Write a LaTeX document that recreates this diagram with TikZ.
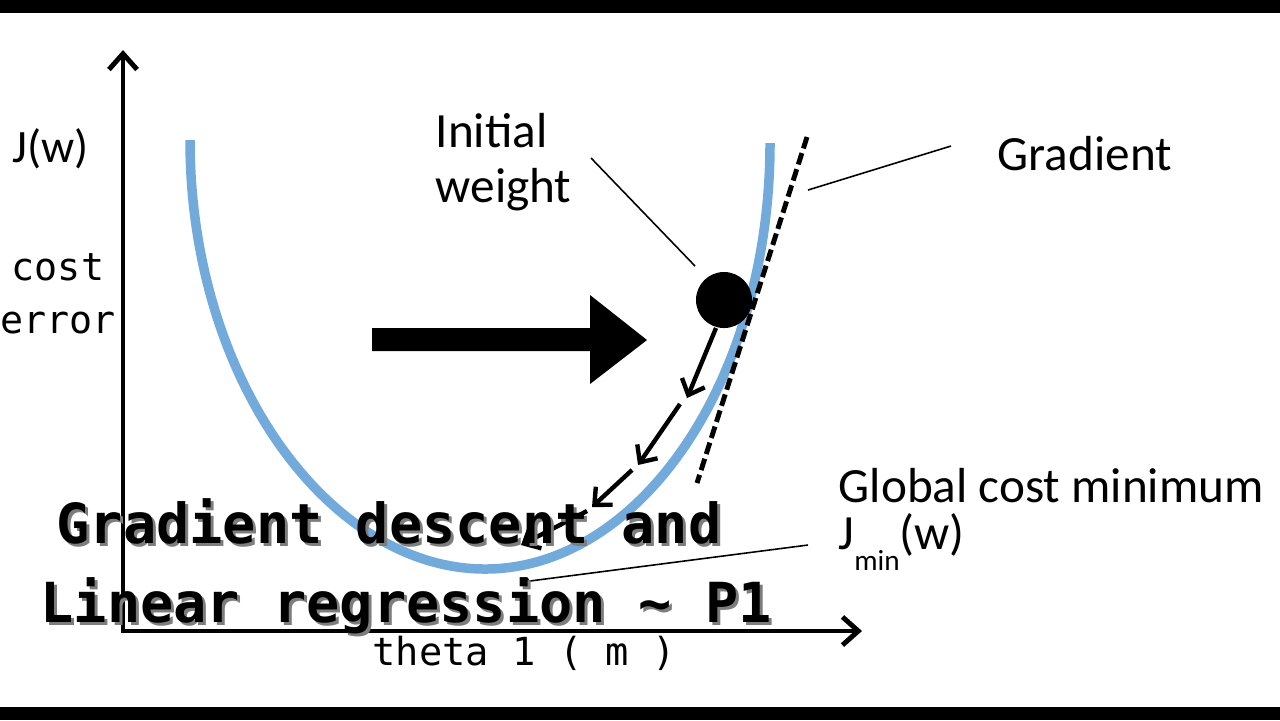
\documentclass[tikz,border=0pt]{standalone}
\usepackage{fontspec}
\usepackage{tikz}
\usetikzlibrary{arrows.meta,positioning,calc}
\newfontfamily\calfont{Carlito}
\newfontfamily\dmono{DejaVu Sans Mono}
\definecolor{cCurve}{RGB}{114,170,220}
\definecolor{cShadow}{RGB}{125,125,125}
\tikzset{
	axisline/.style={{Straight Barb[length=4.5pt,width=8pt]}-{Straight Barb[length=4.5pt,width=8pt]},
		line width=1.4pt},
	costcurve/.style={draw=cCurve,line width=2.7pt},
	tangentline/.style={line width=1.4pt,dash pattern=on 3.4pt off 1.4pt},
	descarr/.style={-{Straight Barb[length=3.8pt,width=7pt]},line width=1.25pt},
	leader/.style={line width=0.45pt},
	lbl/.style={font=\calfont\fontsize{14}{15.6}\selectfont,inner sep=0pt,anchor=base west},
	monolbl/.style={font=\dmono\fontsize{11}{15}\selectfont,inner sep=0pt,align=center},
	titletxt/.style={font=\dmono\bfseries\fontsize{15.7}{18}\selectfont,inner sep=0pt,
		anchor=base west},
}
\begin{document}
\begin{tikzpicture}[x=0.01cm,y=-0.01cm]
	\useasboundingbox (0,0) rectangle (1280,720);
	% letterbox bars
	\fill[black] (0,0) rectangle (1280,13);
	\fill[black] (0,707) rectangle (1280,720);
	% axes
	\coordinate (O) at (123,631);
	\coordinate (ytop) at (123,50);
	\coordinate (xend) at (862,631);
	\draw[axisline] (ytop) -- (O) -- (xend);
	% cost curve J(w)
	\coordinate (cL) at (190,140);
	\coordinate (cMin) at (485,569);
	\coordinate (cR) at (770,143);
	\draw[costcurve] (cL) .. controls (190,380) and (330,569) .. (cMin)
		.. controls (640,569) and (770,380) .. (cR);
	% initial weight and gradient
	\node[circle,fill=black,minimum size=0.56cm,inner sep=0pt] (w0) at (724,300) {};
	\coordinate (g0) at (807,137);
	\coordinate (g1) at (697,483);
	\draw[tangentline] (g0) -- (g1);
	% descent steps
	\coordinate (d0) at (716,328);
	\coordinate (d1) at (687,398);
	\coordinate (d2) at (680,404);
	\coordinate (d3) at (638,465);
	\coordinate (d4) at (632,470);
	\coordinate (d5) at (592,507);
	\coordinate (d6) at (587,511);
	\coordinate (d7) at (521,545);
	\foreach \a/\b in {d0/d1,d2/d3,d4/d5,d6/d7}
		\draw[descarr] (\a) -- (\b);
	% big arrow
	\fill[black] (372,328) -- (590,328) -- (590,295) -- (647,340) -- (590,384)
		-- (590,351) -- (372,351) -- cycle;
	% labels
	\node[lbl,font=\calfont\fontsize{13.2}{15}\selectfont] (jw) at (12,162) {J(w)};
	\node[monolbl,font=\dmono\fontsize{10.9}{15.2}\selectfont,anchor=base] (cost) at (58,280) {cost};
	\node[monolbl,font=\dmono\fontsize{10.9}{15.2}\selectfont,anchor=base] (err) at (58,333) {error};
	\node[lbl] (init) at (435,147) {Initial};
	\node[lbl] (weight) at (435,202) {weight};
	\node[lbl] (grad) at (997,170) {Gradient};
	\node[lbl] (gmin) at (838,502) {Global cost minimum};
	\node[lbl] (jmin) at (838,549) {J\raisebox{-6pt}{\fontsize{8.3}{9}\selectfont min}(w)};
	\node[monolbl,anchor=base west] (theta) at (372,665) {theta 1 ( m )};
	% leader lines
	\coordinate (i0) at (591,158);
	\coordinate (i1) at (695,266);
	\coordinate (t0) at (951,146);
	\coordinate (t1) at (808,190);
	\coordinate (m0) at (522,582);
	\coordinate (m1) at (808,545);
	\draw[leader] (i0) -- (i1);
	\draw[leader] (t0) -- (t1);
	\draw[leader,{Circle[length=2.2pt]}-] (m0) -- (m1);
	% title overlay
	\node[titletxt,text=cShadow] at (59,546) {Gradient descent and};
	\node[titletxt,text=cShadow] at (43,625) {Linear regression \textasciitilde{} P1};
	\node[titletxt] (title1) at (56,543) {Gradient descent and};
	\node[titletxt] (title2) at (40,622) {Linear regression \textasciitilde{} P1};
\end{tikzpicture}
\end{document}
